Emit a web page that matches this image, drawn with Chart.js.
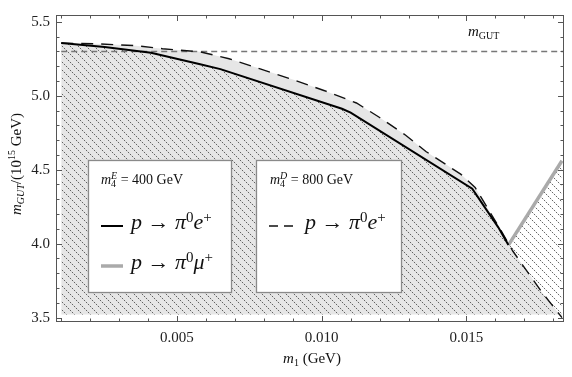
<!DOCTYPE html>
<html>
<head>
<meta charset="utf-8">
<script src="https://cdn.jsdelivr.net/npm/chart.js"></script>
<style>html,body{margin:0;padding:0;background:#fff;}</style>
</head>
<body>
<canvas id="chart" width="572" height="377"></canvas>
<script>
// m4^D = 800 GeV, p -> pi0 e+ (dashed)
const m1D   = [0.001, 0.0022, 0.0035, 0.0045, 0.0058, 0.0068, 0.0079, 0.0090, 0.0101, 0.0112, 0.0120, 0.0129, 0.0136, 0.0148, 0.0153, 0.0161, 0.0166, 0.0176, 0.0183];
const mgutD = [5.356, 5.351, 5.340, 5.318, 5.297, 5.250, 5.180, 5.109, 5.034, 4.951, 4.853, 4.733, 4.623, 4.470, 4.380, 4.120, 3.950, 3.673, 3.500];
// m4^E = 400 GeV, p -> pi0 e+ (solid black)
const m1E   = [0.001, 0.0025, 0.0041, 0.0058, 0.0065, 0.0107, 0.0110, 0.0152, 0.0161, 0.01645];
const mgutE = [5.356, 5.330, 5.290, 5.213, 5.180, 4.912, 4.886, 4.372, 4.110, 3.990];
// m4^E = 400 GeV, p -> pi0 mu+ (gray)
const m1Mu   = [0.01645, 0.0183];
const mgutMu = [3.990, 4.560];
const mGUT = 5.30;
const xLabels = [0.005, 0.010, 0.015];
const yLabels = [3.5, 4.0, 4.5, 5.0, 5.5];
const X_MIN = 0.00082, X_MAX = 0.01837, Y_MIN = 3.47, Y_MAX = 5.546, FLOOR = 3.52;

const pts = (xs, ys) => xs.map((v, i) => ({x: v, y: ys[i]}));
const serif = '"Liberation Serif", "DejaVu Serif", serif';

const makeHatch = () => {
    const t = document.createElement('canvas');
    t.width = 8; t.height = 8;
    const g = t.getContext('2d');
    for (let i = 0; i < 8; i++) {
        g.fillStyle = i % 2 ? 'rgba(150,150,150,0.3)' : 'rgba(40,40,40,0.7)';
        g.fillRect(i, i, 1, 1);
    }
    return g.createPattern(t, 'repeat');
};

// text with sub/superscripts: parts = [text, italic, size, dy, keepX]
const drawRich = (ctx, x, y, parts) => {
    let cx = x;
    parts.forEach(([t, it, size, dy, keep]) => {
        ctx.font = `${it ? 'italic ' : ''}${size}px ${serif}`;
        ctx.fillText(t, cx, y + (dy || 0));
        if (!keep) cx += ctx.measureText(t).width;
    });
    return cx - x;
};
const richWidth = (ctx, parts) => {
    let w = 0;
    parts.forEach(([t, it, size, dy, keep]) => {
        ctx.font = `${it ? 'italic ' : ''}${size}px ${serif}`;
        if (!keep) w += ctx.measureText(t).width;
    });
    return w;
};

const decor = {
    id: 'decor',
    afterDatasetsDraw(chart) {
        const {ctx, chartArea: a, scales: {x, y}} = chart;
        ctx.save();
        ctx.textBaseline = 'alphabetic';

        // legend boxes
        [[88, 160, 143, 132], [256, 160, 145, 132]].forEach(([bx, by, bw, bh]) => {
            ctx.fillStyle = '#fff';
            ctx.fillRect(bx, by, bw, bh);
            ctx.strokeStyle = '#8a8a8a';
            ctx.lineWidth = 1.3;
            ctx.strokeRect(bx + 0.5, by + 0.5, bw, bh);
        });
        ctx.fillStyle = '#111';
        drawRich(ctx, 101, 184, [['m', true, 14], ['4', false, 10, 3, true], ['E', true, 10, -5], [' = 400 GeV', false, 14]]);
        drawRich(ctx, 270, 184, [['m', true, 14], ['4', false, 10, 3, true], ['D', true, 10, -5], [' = 800 GeV', false, 14]]);
        const proc = (lep) => [['p', true, 22], [' \u2192 ', false, 22], ['\u03c0', true, 22], ['0', false, 15, -7], [lep, true, 22], ['+', false, 15, -7]];

        ctx.strokeStyle = '#000'; ctx.lineWidth = 2;
        ctx.beginPath(); ctx.moveTo(101, 226); ctx.lineTo(123, 226); ctx.stroke();
        drawRich(ctx, 131, 229, proc('e'));

        ctx.strokeStyle = '#aaa'; ctx.lineWidth = 3.5;
        ctx.beginPath(); ctx.moveTo(101, 266); ctx.lineTo(123, 266); ctx.stroke();
        drawRich(ctx, 131, 269, proc('\u03bc'));

        ctx.strokeStyle = '#111'; ctx.lineWidth = 1.4; ctx.setLineDash([9, 6]);
        ctx.beginPath(); ctx.moveTo(269, 226); ctx.lineTo(294, 226); ctx.stroke();
        ctx.setLineDash([]);
        drawRich(ctx, 305, 229, proc('e'));

        // m_GUT label
        drawRich(ctx, 468, 36, [['m', true, 15], ['GUT', false, 10, 3]]);

        // frame and ticks on all sides
        ctx.strokeStyle = '#555'; ctx.lineWidth = 1;
        ctx.strokeRect(a.left + 0.5, a.top + 0.5, a.right - a.left - 1, a.bottom - a.top - 1);
        ctx.beginPath();
        for (let k = 1; k <= 18; k++) {
            const px = Math.round(x.getPixelForValue(k / 1000)) + 0.5;
            const L = k % 5 ? 3.5 : 6;
            ctx.moveTo(px, a.bottom); ctx.lineTo(px, a.bottom - L);
            ctx.moveTo(px, a.top); ctx.lineTo(px, a.top + L);
        }
        for (let k = 35; k <= 55; k++) {
            const py = Math.round(y.getPixelForValue(k / 10)) + 0.5;
            const L = k % 5 ? 3.5 : 6;
            ctx.moveTo(a.left, py); ctx.lineTo(a.left + L, py);
            ctx.moveTo(a.right, py); ctx.lineTo(a.right - L, py);
        }
        ctx.stroke();

        // axis titles
        ctx.fillStyle = '#111';
        const xt = [['m', true, 15], ['1', false, 10, 3], [' (GeV)', false, 15]];
        drawRich(ctx, 312 - richWidth(ctx, xt) / 2, 363, xt);
        const yt = [['m', true, 15], ['GUT', true, 10, 3], ['/(10', false, 15], ['15', false, 10, -6], [' GeV)', false, 15]];
        ctx.translate(21, 164);
        ctx.rotate(-Math.PI / 2);
        drawRich(ctx, -richWidth(ctx, yt) / 2, 0, yt);
        ctx.restore();
    }
};

new Chart(document.getElementById('chart').getContext('2d'), {
    type: 'line',
    data: {
        datasets: [
            {data: pts(m1D, mgutD), borderWidth: 0, borderColor: 'rgba(0,0,0,0)', backgroundColor: '#e6e6e6', fill: {value: FLOOR}, order: 6},
            {data: pts(m1E.concat(m1Mu.slice(1)), mgutE.concat(mgutMu.slice(1))), borderWidth: 0, borderColor: 'rgba(0,0,0,0)', backgroundColor: makeHatch(), fill: {value: FLOOR}, order: 5},
            {data: pts([0.001, X_MAX], [mGUT, mGUT]), borderColor: '#777', borderWidth: 1.5, borderDash: [6, 4], fill: false, order: 4},
            {data: pts(m1D, mgutD), borderColor: '#111', borderWidth: 1.4, borderDash: [12, 8], fill: false, order: 3},
            {data: pts(m1Mu, mgutMu), borderColor: '#aaa', borderWidth: 3.5, fill: false, order: 2},
            {data: pts(m1E, mgutE), borderColor: '#000', borderWidth: 2, fill: false, order: 1}
        ]
    },
    options: {
        responsive: false,
        animation: false,
        devicePixelRatio: 1,
        layout: {padding: {left: 0, right: 8, top: 6, bottom: 0}},
        elements: {point: {radius: 0}, line: {tension: 0}},
        plugins: {legend: {display: false}, tooltip: {enabled: false}},
        scales: {
            x: {
                type: 'linear', min: X_MIN, max: X_MAX,
                grid: {display: false, drawTicks: false}, border: {display: false},
                afterBuildTicks: s => { s.ticks = xLabels.map(v => ({value: v})); },
                afterFit: s => { s.height = 55; },
                ticks: {padding: 7, color: '#222', maxRotation: 0, autoSkip: false,
                        font: {family: serif, size: 15}, callback: v => v.toFixed(3)}
            },
            y: {
                type: 'linear', min: Y_MIN, max: Y_MAX,
                grid: {display: false, drawTicks: false}, border: {display: false},
                afterBuildTicks: s => { s.ticks = yLabels.map(v => ({value: v})); },
                afterFit: s => { s.width = 56; },
                ticks: {padding: 6, color: '#222', autoSkip: false,
                        font: {family: serif, size: 15}, callback: v => v.toFixed(1)}
            }
        }
    },
    plugins: [decor]
});
</script>
</body>
</html>
